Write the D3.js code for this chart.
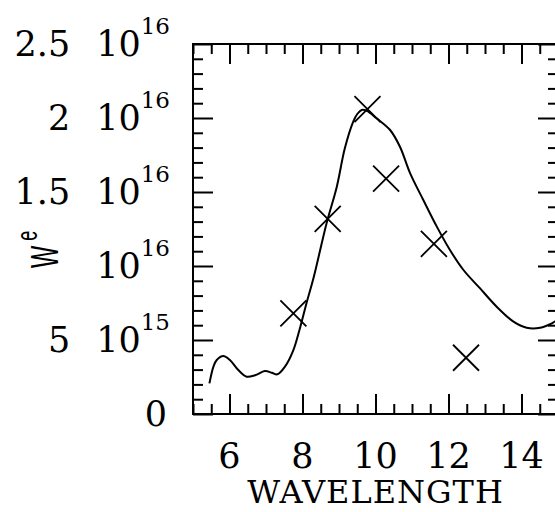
<!DOCTYPE html>
<html>
<head>
<meta charset="utf-8">
<script src="https://cdn.jsdelivr.net/npm/d3@7"></script>
<style>
  html, body { margin: 0; padding: 0; background: #fff; }
  svg { display: block; }
</style>
</head>
<body>
<script>
// ---- data ----
const curveX = [5.45, 5.56, 5.65, 5.83, 6.01, 6.24, 6.47, 6.70, 6.97, 7.16, 7.31, 7.52, 7.75, 7.93, 8.12, 8.30, 8.66, 8.94, 9.16, 9.39, 9.50, 9.62, 9.76, 10.03, 10.40, 10.67, 10.95, 11.31, 11.68, 12.04, 12.41, 12.86, 13.32, 13.78, 14.14, 14.51, 14.83, 15.0];
const curveY = [0.207, 0.32, 0.365, 0.392, 0.365, 0.297, 0.252, 0.262, 0.29, 0.279, 0.268, 0.32, 0.432, 0.58, 0.759, 0.917, 1.289, 1.536, 1.795, 1.975, 2.027, 2.054, 2.049, 1.998, 1.919, 1.806, 1.626, 1.446, 1.266, 1.108, 0.973, 0.85, 0.725, 0.624, 0.583, 0.583, 0.613, 0.64].map(v => v * 1e16);
const obsX = [7.75, 8.69, 9.78, 10.29, 11.6, 12.48];
const obsY = [0.68, 1.318, 2.06, 1.59, 1.15, 0.38].map(v => v * 1e16);

const xMajor = [6, 8, 10, 12, 14];
const xMinor = d3.range(5, 15.01, 0.5);
const yMajor = [0, 0.5e16, 1e16, 1.5e16, 2e16, 2.5e16];
const yMinor = d3.range(0, 26).map(i => i * 0.1e16);
const yMant = ["0", "5", "", "1.5", "2", "2.5"];
const yExp = ["", "15", "16", "16", "16", "16"];
const xLabel = "WAVELENGTH";

// ---- layout ----
const W = 555, H = 512;
const x = d3.scaleLinear().domain([5, 15]).range([193, 558]);
const y = d3.scaleLinear().domain([0, 2.5e16]).range([414, 44]);

const svg = d3.select("body").append("svg").attr("width", W).attr("height", H);
const serif = "'DejaVu Serif', 'Liberation Serif', serif";

// frame
svg.append("rect")
  .attr("x", x(5)).attr("y", y(2.5e16))
  .attr("width", x(15) - x(5)).attr("height", y(0) - y(2.5e16))
  .attr("fill", "none").attr("stroke", "#000").attr("stroke-width", 2);

function ticks(axisFn, scale, vals, size, tr) {
  const g = svg.append("g").attr("transform", tr)
    .call(axisFn(scale).tickValues(vals).tickSizeInner(size).tickSizeOuter(0).tickFormat(""));
  g.select(".domain").remove();
  g.selectAll(".tick line").attr("stroke", "#000").attr("stroke-width", 2);
}
const minorX = xMinor.filter(v => !xMajor.includes(v));
const minorY = yMinor.filter(v => !yMajor.some(m => Math.abs(m - v) < 1e10));
// bottom / top (inward)
ticks(d3.axisBottom, x, xMajor, -20, `translate(0,${y(0)})`);
ticks(d3.axisBottom, x, minorX, -10, `translate(0,${y(0)})`);
ticks(d3.axisTop, x, xMajor, -20, `translate(0,${y(2.5e16)})`);
ticks(d3.axisTop, x, minorX, -10, `translate(0,${y(2.5e16)})`);
// left / right (inward)
ticks(d3.axisLeft, y, yMajor, -20, `translate(${x(5)},0)`);
ticks(d3.axisLeft, y, minorY, -10, `translate(${x(5)},0)`);
ticks(d3.axisRight, y, yMajor, -20, `translate(${x(15)},0)`);
ticks(d3.axisRight, y, minorY, -10, `translate(${x(15)},0)`);

// x tick labels
svg.append("g").selectAll("text").data(xMajor).join("text")
  .attr("x", d => x(d)).attr("y", 468)
  .attr("text-anchor", "middle")
  .attr("font-family", serif).attr("font-size", 35)
  .text(d => d);

// y tick labels
const yl = svg.append("g").selectAll("text").data(yMajor).join("text")
  .attr("x", (d, i) => i === 0 ? 167 : 170)
  .attr("y", d => y(d) + 12)
  .attr("text-anchor", "end")
  .attr("font-family", serif).attr("font-size", 35);
yl.each(function(d, i) {
  const t = d3.select(this);
  if (yExp[i] === "") { t.text(yMant[i]); return; }
  if (yMant[i] !== "") t.append("tspan").text(yMant[i]);
  t.append("tspan").attr("dx", yMant[i] !== "" ? 26 : 0).text("10");
  t.append("tspan").attr("dy", -22).attr("font-size", 23).text(yExp[i]);
});

// axis titles
svg.append("text")
  .attr("x", x(10)).attr("y", 503)
  .attr("text-anchor", "middle")
  .attr("font-family", serif).attr("font-size", 32)
  .attr("letter-spacing", 1)
  .text(xLabel);

const yt = svg.append("text")
  .attr("transform", "translate(58,268) rotate(-90) scale(0.62,1)")
  .attr("font-family", "'Liberation Sans', Arial, sans-serif").attr("font-size", 38);
yt.append("tspan").text("W");
yt.append("tspan").attr("dx", 8).attr("dy", -21).attr("font-size", 29).text("e");

// curve
const line = d3.line().x(d => x(d[0])).y(d => y(d[1])).curve(d3.curveCatmullRom.alpha(0.5));
svg.append("path")
  .datum(d3.zip(curveX, curveY))
  .attr("d", line)
  .attr("fill", "none").attr("stroke", "#000").attr("stroke-width", 2);

// crosses
const s = 13;
const cg = svg.append("g").selectAll("g").data(d3.zip(obsX, obsY)).join("g")
  .attr("transform", d => `translate(${x(d[0])},${y(d[1])})`);
cg.append("path")
  .attr("d", `M${-s},${-s}L${s},${s}M${-s},${s}L${s},${-s}`)
  .attr("stroke", "#000").attr("stroke-width", 1.8).attr("fill", "none");
</script>
</body>
</html>
